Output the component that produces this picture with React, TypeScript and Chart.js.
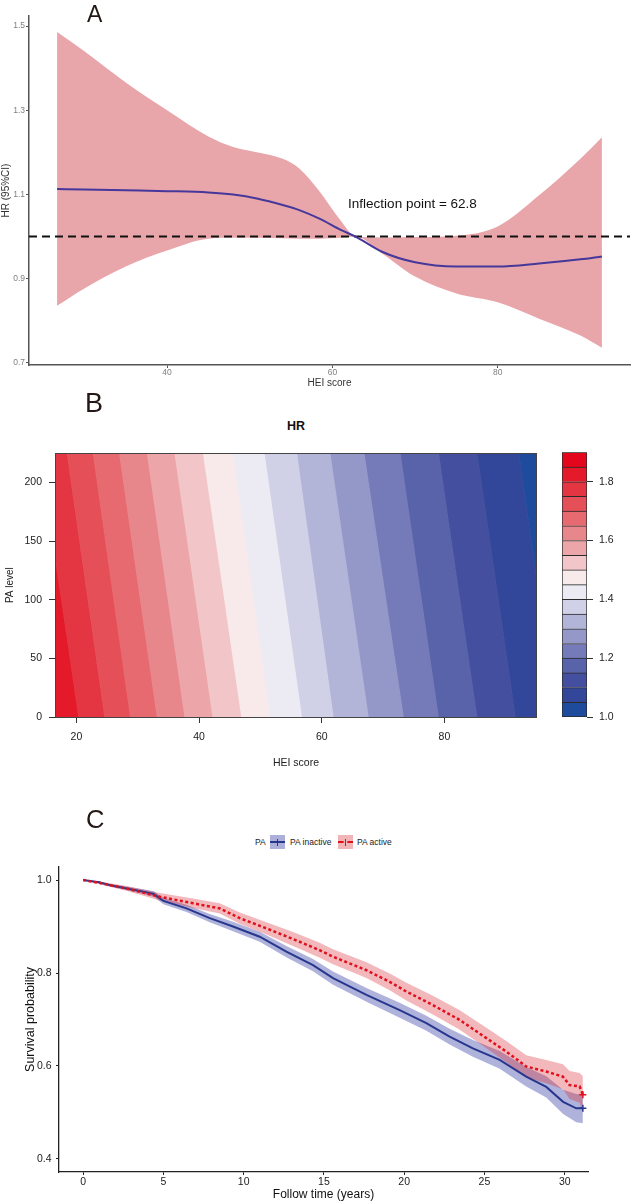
import React, { useEffect, useRef } from "react";
import { Chart, registerables } from "chart.js";

Chart.register(...registerables);

const FONT = "'Liberation Sans', Arial, Helvetica, sans-serif";

// ---------------- Panel A: restricted cubic spline HR vs HEI ----------------
const A_HEI = [26.7, 30, 35, 40, 45, 48, 51, 54, 56, 58.5, 61, 62.8, 66, 70, 75, 80, 85, 90, 92.6];
const A_HR = [1.113, 1.112, 1.11, 1.108, 1.105, 1.1, 1.09, 1.075, 1.063, 1.042, 1.016, 1.0, 0.964, 0.939, 0.929, 0.929, 0.936, 0.946, 0.953];
const A_UPPER = [1.486, 1.44, 1.366, 1.3, 1.238, 1.213, 1.2, 1.185, 1.162, 1.106, 1.038, 1.0, 0.998, 0.999, 1.002, 1.024, 1.098, 1.185, 1.236];
const A_LOWER = [0.836, 0.877, 0.929, 0.967, 0.995, 0.997, 0.997, 0.996, 0.995, 0.995, 0.997, 1.0, 0.96, 0.905, 0.865, 0.844, 0.805, 0.765, 0.736];
const A_X_TICKS = [40, 60, 80];
const A_Y_TICKS = [0.7, 0.9, 1.1, 1.3, 1.5];
const A_X_RANGE = [23.3, 96.0];
const A_Y_RANGE = [0.695, 1.524];
const A_REF_HR = 1;
const A_INFLECTION_TEXT = "Inflection point = 62.8";
const A_INFLECTION_LABEL_AT = [61.9, 1.077];

// ---------------- Panel B: HR contour over HEI x PA ----------------
const B_CONTOUR_LEVELS = [1.05, 1.1, 1.15, 1.2, 1.25, 1.3, 1.35, 1.4, 1.45, 1.5, 1.55, 1.6, 1.65, 1.7, 1.75, 1.8];
const B_HEI_AT_PA_MAX = [92.13, 85.34, 79.07, 72.83, 66.95, 61.4, 55.97, 50.68, 45.52, 40.63, 35.99, 31.49, 26.97, 22.68, 18.43, 14.0];
const B_HEI_AT_PA_MIN = [98.28, 91.59, 85.34, 79.07, 73.36, 67.65, 61.94, 56.78, 51.61, 46.88, 42.19, 37.62, 33.12, 28.76, 24.57, 20.33];
const B_COLORBAR_LEVELS = [1.0, 1.05, 1.1, 1.15, 1.2, 1.25, 1.3, 1.35, 1.4, 1.45, 1.5, 1.55, 1.6, 1.65, 1.7, 1.75, 1.8, 1.85, 1.9];
const B_BAND_COLORS = [
  "#1e4b9b", "#32479a", "#44509f", "#5963aa", "#757bb9", "#9398c9", "#b2b4d8", "#d0d1e7", "#ecebf4",
  "#f8e9ea", "#f2c6c8", "#eca5a8", "#e8878b", "#e66a70", "#e55058", "#e43542", "#e41a2a", "#e3061d",
];
const B_X_TICKS = [20, 40, 60, 80];
const B_Y_TICKS = [0, 50, 100, 150, 200];
const B_X_RANGE = [16.5, 95.1];
const B_Y_RANGE = [0, 225];
const B_COLORBAR_TICKS = [1.0, 1.2, 1.4, 1.6, 1.8];

// ---------------- Panel C: Kaplan-Meier by PA ----------------
const C_INACTIVE_T = [0, 1, 1.66, 2.7, 3.74, 4.4, 5.0, 6.44, 7.89, 9.34, 11.0, 12.66, 14.32, 15.57, 17.65, 19.72, 21.38, 22.83, 24.28, 25.95, 27.6, 28.85, 29.9, 30.72, 31.13];
const C_INACTIVE_S = [1.0, 0.995, 0.989, 0.982, 0.975, 0.97, 0.955, 0.939, 0.918, 0.9, 0.878, 0.846, 0.817, 0.789, 0.753, 0.72, 0.692, 0.663, 0.638, 0.613, 0.577, 0.555, 0.523, 0.509, 0.509];
const C_INACTIVE_LO = [1.0, 0.993, 0.986, 0.978, 0.97, 0.964, 0.948, 0.931, 0.909, 0.89, 0.867, 0.834, 0.804, 0.775, 0.738, 0.704, 0.676, 0.646, 0.62, 0.594, 0.556, 0.532, 0.497, 0.479, 0.477];
const C_INACTIVE_UP = [1.0, 0.997, 0.992, 0.986, 0.98, 0.976, 0.962, 0.947, 0.927, 0.91, 0.889, 0.858, 0.83, 0.803, 0.768, 0.736, 0.708, 0.68, 0.656, 0.632, 0.598, 0.578, 0.549, 0.54, 0.54];
const C_ACTIVE_T = [0, 1, 2.7, 4.78, 6.85, 8.51, 9.76, 11.42, 13.08, 14.74, 15.57, 17.65, 19.1, 20.14, 21.79, 23.46, 25.12, 26.36, 27.6, 28.85, 29.89, 30.3, 30.93, 31.13];
const C_ACTIVE_S = [1.0, 0.994, 0.982, 0.964, 0.95, 0.939, 0.918, 0.896, 0.873, 0.849, 0.835, 0.806, 0.781, 0.76, 0.731, 0.699, 0.66, 0.631, 0.599, 0.588, 0.577, 0.559, 0.556, 0.538];
const C_ACTIVE_LO = [1.0, 0.991, 0.977, 0.956, 0.94, 0.928, 0.906, 0.883, 0.858, 0.833, 0.819, 0.789, 0.763, 0.741, 0.711, 0.678, 0.638, 0.608, 0.575, 0.563, 0.55, 0.529, 0.521, 0.498];
const C_ACTIVE_UP = [1.0, 0.997, 0.987, 0.972, 0.96, 0.95, 0.93, 0.909, 0.888, 0.865, 0.851, 0.823, 0.799, 0.779, 0.751, 0.72, 0.682, 0.654, 0.623, 0.613, 0.604, 0.589, 0.585, 0.578];
const C_X_TICKS = [0, 5, 10, 15, 20, 25, 30];
const C_Y_TICKS = [0.4, 0.6, 0.8, 1.0];
const C_X_RANGE = [-1.5, 31.45];
const C_Y_RANGE = [0.372, 1.028];
const C_GROUPS = ["PA inactive", "PA active"];

// ---------------- helpers ----------------
const pts = (xs: number[], ys: number[]) => xs.map((x, i) => ({ x, y: ys[i] }));
const fixedTicks = (vals: number[]) => (axis: any) => {
  axis.ticks = vals.map((v) => ({ value: v }));
};
const lastOnly = (r: number) => (ctx: any) =>
  ctx.dataIndex === ctx.dataset.data.length - 1 ? r : 0;

const noPlugins = { legend: { display: false }, tooltip: { enabled: false } };

function makeA(canvas: HTMLCanvasElement) {
  const inflection = {
    id: "inflectionLabel",
    afterDatasetsDraw(chart: any) {
      const { ctx, scales } = chart;
      ctx.save();
      ctx.font = `13.5px ${FONT}`;
      ctx.fillStyle = "#111";
      ctx.textAlign = "left";
      ctx.textBaseline = "middle";
      ctx.fillText(
        A_INFLECTION_TEXT,
        scales.x.getPixelForValue(A_INFLECTION_LABEL_AT[0]),
        scales.y.getPixelForValue(A_INFLECTION_LABEL_AT[1])
      );
      ctx.restore();
    },
  };
  return new Chart(canvas, {
    type: "line",
    data: {
      datasets: [
        { data: pts(A_HEI, A_UPPER), fill: "+1", backgroundColor: "#e8a6aa", borderWidth: 0, pointRadius: 0, cubicInterpolationMode: "monotone", order: 3 },
        { data: pts(A_HEI, A_LOWER), fill: false, borderWidth: 0, pointRadius: 0, cubicInterpolationMode: "monotone", order: 3 },
        {
          data: [{ x: A_X_RANGE[0], y: A_REF_HR }, { x: A_X_RANGE[1], y: A_REF_HR }],
          borderColor: "#111", borderWidth: 2, borderDash: [8, 5], pointRadius: 0, fill: false, order: 2,
        },
        { data: pts(A_HEI, A_HR), borderColor: "#45389a", borderWidth: 2, pointRadius: 0, fill: false, cubicInterpolationMode: "monotone", order: 1 },
      ],
    } as any,
    options: {
      responsive: false,
      animation: false,
      devicePixelRatio: 1,
      layout: { padding: { left: 0, top: 16, right: 3, bottom: 0 } },
      plugins: noPlugins as any,
      scales: {
        x: {
          type: "linear",
          min: A_X_RANGE[0],
          max: A_X_RANGE[1],
          afterBuildTicks: fixedTicks(A_X_TICKS),
          afterFit: (s: any) => { s.height = 28; },
          border: { display: true, color: "#555", width: 1.5 },
          grid: { display: true, drawOnChartArea: false, drawTicks: true, tickLength: 3, color: "#555" },
          ticks: { font: { size: 8.5 }, color: "#808080", padding: 0, maxRotation: 0, autoSkip: false, callback: (v: any) => String(v) },
          title: { display: true, text: "HEI score", font: { size: 10 }, color: "#333", padding: { top: 0, bottom: 4 } },
        },
        y: {
          type: "linear",
          min: A_Y_RANGE[0],
          max: A_Y_RANGE[1],
          afterBuildTicks: fixedTicks(A_Y_TICKS),
          afterFit: (s: any) => { s.width = 29; },
          border: { display: true, color: "#555", width: 1.5 },
          grid: { display: true, drawOnChartArea: false, drawTicks: true, tickLength: 3, color: "#555" },
          ticks: { font: { size: 8.5 }, color: "#808080", padding: 1, autoSkip: false, callback: (v: any) => Number(v).toFixed(1) },
          title: { display: true, text: "HR (95%CI)", font: { size: 10 }, color: "#333", padding: { top: 0, bottom: 0 } },
        },
      },
    } as any,
    plugins: [inflection],
  });
}

function makeB(canvas: HTMLCanvasElement) {
  const farLeft = B_X_RANGE[0] - 10;
  const farRight = B_X_RANGE[1] + 10;
  const datasets: any[] = [];
  for (let k = 0; k <= B_CONTOUR_LEVELS.length; k++) {
    const lt = k < B_CONTOUR_LEVELS.length ? B_HEI_AT_PA_MAX[k] : farLeft;
    const lb = k < B_CONTOUR_LEVELS.length ? B_HEI_AT_PA_MIN[k] : farLeft;
    const rt = k >= 1 ? B_HEI_AT_PA_MAX[k - 1] : farRight;
    const rb = k >= 1 ? B_HEI_AT_PA_MIN[k - 1] : farRight;
    const color = B_BAND_COLORS[k];
    datasets.push({
      data: [
        { x: lt, y: B_Y_RANGE[1] },
        { x: rt, y: B_Y_RANGE[1] },
        { x: rb, y: B_Y_RANGE[0] },
        { x: lb, y: B_Y_RANGE[0] },
      ],
      fill: "shape",
      backgroundColor: color,
      borderColor: color,
      borderWidth: 1,
      pointRadius: 0,
      clip: 0,
    });
  }
  const frame = {
    id: "frame",
    afterDatasetsDraw(chart: any) {
      const { ctx, chartArea: a } = chart;
      ctx.save();
      ctx.strokeStyle = "#444";
      ctx.lineWidth = 1;
      ctx.strokeRect(Math.round(a.left) + 0.5, Math.round(a.top) + 0.5, Math.round(a.right - a.left) - 1, Math.round(a.bottom - a.top));
      ctx.restore();
    },
  };
  return new Chart(canvas, {
    type: "line",
    data: { datasets },
    options: {
      responsive: false,
      animation: false,
      devicePixelRatio: 1,
      layout: { padding: { left: 0, top: 12, right: 13, bottom: 0 } },
      plugins: noPlugins as any,
      scales: {
        x: {
          type: "linear",
          min: B_X_RANGE[0],
          max: B_X_RANGE[1],
          afterBuildTicks: fixedTicks(B_X_TICKS),
          afterFit: (s: any) => { s.height = 63; },
          border: { display: false },
          grid: { display: true, drawOnChartArea: false, drawTicks: true, tickLength: 6, color: "#333" },
          ticks: { font: { size: 10.5 }, color: "#222", padding: 8, maxRotation: 0, autoSkip: false, callback: (v: any) => String(v) },
          title: { display: true, text: "HEI score", font: { size: 10.5 }, color: "#222", padding: { top: 0, bottom: 10.5 } },
        },
        y: {
          type: "linear",
          min: B_Y_RANGE[0],
          max: B_Y_RANGE[1],
          afterBuildTicks: fixedTicks(B_Y_TICKS),
          afterFit: (s: any) => { s.width = 55; },
          border: { display: false },
          grid: { display: true, drawOnChartArea: false, drawTicks: true, tickLength: 6, color: "#333" },
          ticks: { font: { size: 10.5 }, color: "#222", padding: 7, autoSkip: false, callback: (v: any) => String(v) },
          title: { display: true, text: "PA level", font: { size: 10 }, color: "#222", padding: { top: 4, bottom: 0 } },
        },
      },
    } as any,
    plugins: [frame],
  });
}

function makeColorbar(canvas: HTMLCanvasElement) {
  const datasets = B_BAND_COLORS.map((color, k) => ({
    data: [[B_COLORBAR_LEVELS[k], B_COLORBAR_LEVELS[k + 1]]],
    backgroundColor: color,
    borderColor: "#2a2a2a",
    borderWidth: { top: 1, left: 1, right: 1, bottom: k === 0 ? 1 : 0 },
    borderSkipped: false,
    grouped: false,
    barPercentage: 1,
    categoryPercentage: 1,
  }));
  return new Chart(canvas, {
    type: "bar",
    data: { labels: ["HR"], datasets },
    options: {
      responsive: false,
      animation: false,
      devicePixelRatio: 1,
      layout: { padding: { left: 12, top: 12, right: 0, bottom: 23 } },
      plugins: noPlugins as any,
      scales: {
        x: { display: false },
        y: {
          position: "right",
          min: B_COLORBAR_LEVELS[0],
          max: B_COLORBAR_LEVELS[B_COLORBAR_LEVELS.length - 1],
          afterBuildTicks: fixedTicks(B_COLORBAR_TICKS),
          afterFit: (s: any) => { s.width = 46; },
          border: { display: false },
          grid: { display: true, drawOnChartArea: false, drawTicks: true, tickLength: 6, color: "#333" },
          ticks: { font: { size: 10.5 }, color: "#222", padding: 6, autoSkip: false, callback: (v: any) => Number(v).toFixed(1) },
        },
      },
    } as any,
  });
}

function makeC(canvas: HTMLCanvasElement) {
  const blue = "#27378e";
  const red = "#e0101c";
  return new Chart(canvas, {
    type: "line",
    data: {
      datasets: [
        { label: C_GROUPS[0] + " upper", data: pts(C_INACTIVE_T, C_INACTIVE_UP), fill: "+1", backgroundColor: "rgba(45,55,160,0.38)", borderWidth: 0, pointRadius: 0, order: 4 },
        { label: C_GROUPS[0] + " lower", data: pts(C_INACTIVE_T, C_INACTIVE_LO), fill: false, borderWidth: 0, pointRadius: 0, order: 4 },
        { label: C_GROUPS[1] + " upper", data: pts(C_ACTIVE_T, C_ACTIVE_UP), fill: "+1", backgroundColor: "rgba(220,40,50,0.33)", borderWidth: 0, pointRadius: 0, order: 3 },
        { label: C_GROUPS[1] + " lower", data: pts(C_ACTIVE_T, C_ACTIVE_LO), fill: false, borderWidth: 0, pointRadius: 0, order: 3 },
        {
          label: C_GROUPS[0], data: pts(C_INACTIVE_T, C_INACTIVE_S), fill: false, borderColor: blue, borderWidth: 2,
          pointStyle: "cross", pointRadius: lastOnly(3.5), pointBorderColor: blue, pointBorderWidth: 1.5, order: 2,
        },
        {
          label: C_GROUPS[1], data: pts(C_ACTIVE_T, C_ACTIVE_S), fill: false, borderColor: red, borderWidth: 2.5, borderDash: [3, 2.5],
          pointStyle: "cross", pointRadius: lastOnly(3.5), pointBorderColor: red, pointBorderWidth: 1.5, order: 1,
        },
      ],
    } as any,
    options: {
      responsive: false,
      animation: false,
      devicePixelRatio: 1,
      layout: { padding: { left: 0, top: 17, right: 45, bottom: 0 } },
      plugins: noPlugins as any,
      scales: {
        x: {
          type: "linear",
          min: C_X_RANGE[0],
          max: C_X_RANGE[1],
          afterBuildTicks: fixedTicks(C_X_TICKS),
          afterFit: (s: any) => { s.height = 31; },
          border: { display: true, color: "#222", width: 1.3 },
          grid: { display: true, drawOnChartArea: false, drawTicks: true, tickLength: 3, color: "#222" },
          ticks: { font: { size: 10.5 }, color: "#222", padding: 1, maxRotation: 0, autoSkip: false, callback: (v: any) => String(v) },
          title: { display: true, text: "Follow time (years)", font: { size: 12 }, color: "#111", padding: { top: 0, bottom: 1 } },
        },
        y: {
          type: "linear",
          min: C_Y_RANGE[0],
          max: C_Y_RANGE[1],
          afterBuildTicks: fixedTicks(C_Y_TICKS),
          afterFit: (s: any) => { s.width = 59; },
          border: { display: true, color: "#222", width: 1.3 },
          grid: { display: true, drawOnChartArea: false, drawTicks: true, tickLength: 3, color: "#222" },
          ticks: { font: { size: 10.5 }, color: "#222", padding: 4.5, autoSkip: false, callback: (v: any) => Number(v).toFixed(1) },
          title: { display: true, text: "Survival probability", font: { size: 12.5 }, color: "#111", padding: { top: 23, bottom: 0 } },
        },
      },
    } as any,
  });
}

const abs = (left: number, top: number, extra: any = {}) => ({ position: "absolute" as const, left, top, ...extra });

export default function App() {
  const refA = useRef<HTMLCanvasElement | null>(null);
  const refB = useRef<HTMLCanvasElement | null>(null);
  const refBar = useRef<HTMLCanvasElement | null>(null);
  const refC = useRef<HTMLCanvasElement | null>(null);

  useEffect(() => {
    Chart.defaults.font.family = FONT;
    const charts = [
      makeA(refA.current as HTMLCanvasElement),
      makeB(refB.current as HTMLCanvasElement),
      makeColorbar(refBar.current as HTMLCanvasElement),
      makeC(refC.current as HTMLCanvasElement),
    ];
    return () => charts.forEach((c) => c.destroy());
  }, []);

  const letter = { fontFamily: FONT, color: "#231815", lineHeight: 1 };
  const small = { fontFamily: FONT, fontSize: 8.5, lineHeight: 1, color: "#222", whiteSpace: "nowrap" as const };

  return (
    <div style={{ position: "absolute", left: 0, top: 0, width: 633, height: 1203, background: "#fff", overflow: "hidden" }}>
      <canvas ref={refA} width={633} height={393} style={abs(0, 0, { display: "block" })} />
      <canvas ref={refB} width={550} height={340} style={abs(0, 440, { display: "block" })} />
      <canvas ref={refBar} width={83} height={300} style={abs(550, 440, { display: "block" })} />
      <canvas ref={refC} width={633} height={353} style={abs(0, 850, { display: "block" })} />

      <div style={abs(87, 3, { ...letter, fontSize: 23 })}>A</div>
      <div style={abs(85, 390, { ...letter, fontSize: 27 })}>B</div>
      <div style={abs(86, 807, { ...letter, fontSize: 25.5 })}>C</div>

      <div style={abs(256, 420, { fontFamily: FONT, fontWeight: 700, fontSize: 12.5, lineHeight: 1, width: 80, textAlign: "center", color: "#111" })}>HR</div>

      <div style={abs(255, 838, small)}>PA</div>
      <div style={abs(270, 835, { width: 15, height: 14, background: "#abafd9" })}>
        <div style={abs(0, 6, { width: 15, height: 2, background: "#27378e" })} />
        <div style={abs(6.5, 3.5, { width: 1.5, height: 7, background: "#27378e" })} />
      </div>
      <div style={abs(290, 838, small)}>{C_GROUPS[0]}</div>
      <div style={abs(338, 835, { width: 15, height: 14, background: "#f1b5b8" })}>
        <div style={abs(0, 6, { width: 15, height: 0, borderTop: "2px dashed #e0101c" })} />
        <div style={abs(6.5, 3.5, { width: 1.5, height: 7, background: "#e0101c" })} />
      </div>
      <div style={abs(357, 838, small)}>{C_GROUPS[1]}</div>
    </div>
  );
}
